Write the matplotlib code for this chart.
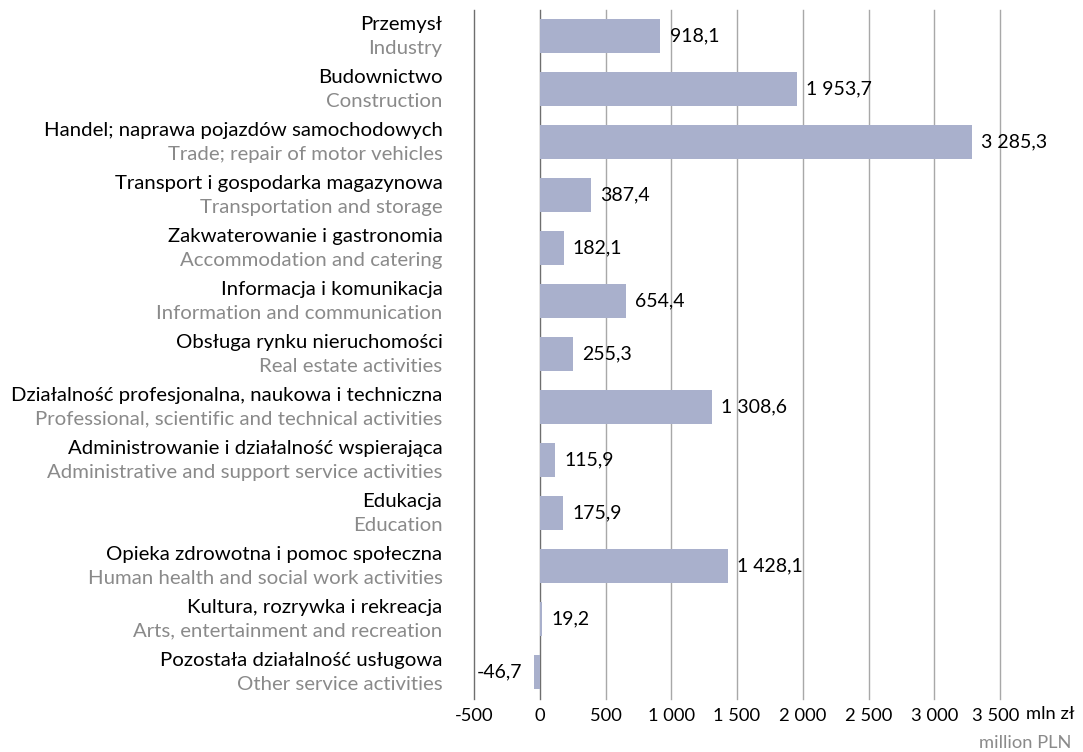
import matplotlib.pyplot as plt
import matplotlib.transforms as mtrans
import numpy as np

plt.rcParams['font.family'] = ['Lato', 'DejaVu Sans']

# 数据
labels_pl = ['Przemysł', 'Budownictwo', 'Handel; naprawa pojazdów samochodowych',
             'Transport i gospodarka magazynowa', 'Zakwaterowanie i gastronomia',
             'Informacja i komunikacja', 'Obsługa rynku nieruchomości',
             'Działalność profesjonalna, naukowa i techniczna',
             'Administrowanie i działalność wspierająca', 'Edukacja',
             'Opieka zdrowotna i pomoc społeczna', 'Kultura, rozrywka i rekreacja',
             'Pozostała działalność usługowa']
labels_en = ['Industry', 'Construction', 'Trade; repair of motor vehicles',
             'Transportation and storage', 'Accommodation and catering',
             'Information and communication', 'Real estate activities',
             'Professional, scientific and technical activities',
             'Administrative and support service activities', 'Education',
             'Human health and social work activities',
             'Arts, entertainment and recreation', 'Other service activities']
values = [918.1, 1953.7, 3285.3, 387.4, 182.1, 654.4, 255.3,
          1308.6, 115.9, 175.9, 1428.1, 19.2, -46.7]
xticks = [-500, 0, 500, 1000, 1500, 2000, 2500, 3000, 3500]


def fmt(v):
    s = '{:,.1f}'.format(v)
    return s.replace(',', ' ').replace('.', ',')


def fmt_tick(v):
    return '{:,d}'.format(v).replace(',', ' ')


fs = 14.7
fig = plt.figure(figsize=[10.83, 7.52], dpi=100)
ax = fig.add_axes([474/1083, 1-698.5/752, (1000-474)/1083, 689/752])

y = np.arange(len(values))
ax.barh(y, values, height=0.64, color='#a9b0cc', zorder=2)
ax.set_ylim(len(values)-0.5, -0.5)
ax.set_xlim(-500, 3500)

# 网格线
for xv in xticks:
    c = '#6e6e6e' if xv in (-500, 0) else '#a8a8a8'
    ax.axvline(xv, color=c, lw=1.0, zorder=1, clip_on=False)

for i, v in enumerate(values):
    if v >= 0:
        ax.text(v+70, i, fmt(v), ha='left', va='center', fontsize=14, color='black')
    else:
        ax.text(v-90, i, fmt(v), ha='right', va='center', fontsize=14, color='black')
    ax.text(-0.06, i-0.21, labels_pl[i], transform=ax.get_yaxis_transform(),
            ha='right', va='center', fontsize=fs, color='black')
    ax.text(-0.06, i+0.23, labels_en[i], transform=ax.get_yaxis_transform(),
            ha='right', va='center', fontsize=fs, color='#8a8a8a')

for s in ax.spines.values():
    s.set_visible(False)
ax.set_yticks([])
ax.set_xticks(xticks)
ax.set_xticklabels([fmt_tick(t) for t in xticks], fontsize=13.2)
ax.tick_params(axis='x', length=0, pad=7)
# 最后一个刻度标签稍微左移，给单位留空间
lab = ax.get_xticklabels()[-1]
lab.set_transform(lab.get_transform() + mtrans.ScaledTranslation(-4/100, 0, fig.dpi_scale_trans))
fig.text(1026/1083, 1-714/752, 'mln zł', ha='left', va='center', fontsize=13.2)
fig.text(1071/1083, 1-743/752, 'million PLN', ha='right', va='center',
         fontsize=13.2, color='#8a8a8a')

fig.savefig('out.png')
